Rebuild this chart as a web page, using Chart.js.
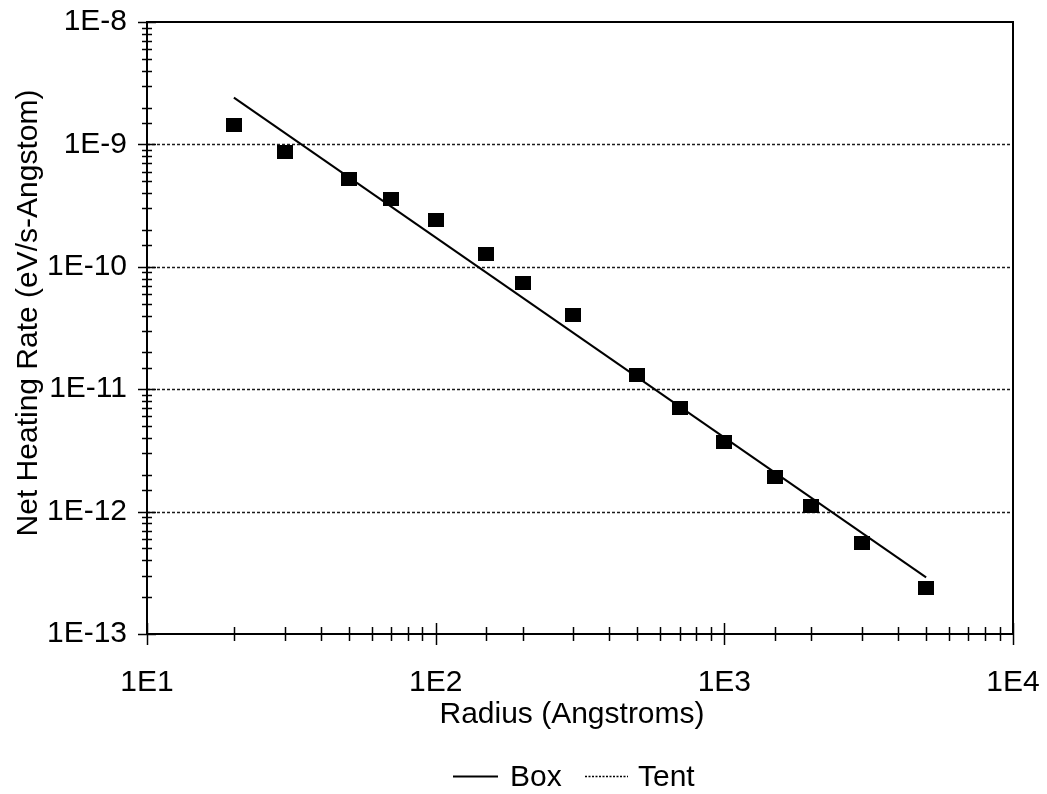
<!DOCTYPE html>
<html>
<head>
<meta charset="utf-8">
<script src="https://cdn.jsdelivr.net/npm/chart.js@4"></script>
<style>
  html, body { margin: 0; padding: 0; background: #ffffff; }
  canvas { display: block; }
</style>
</head>
<body>
<canvas id="chart" width="1047" height="794"></canvas>
<script>
// Net heating rate versus radius
const radii = [20, 30, 50, 70, 100, 150, 200, 300, 500, 700, 1000, 1500, 2000, 3000, 5000];
const heatingRates = [1.45e-9, 8.68e-10, 5.19e-10, 3.56e-10, 2.40e-10, 1.27e-10, 7.35e-11,
                      4.03e-11, 1.30e-11, 7.0e-12, 3.70e-12, 1.91e-12, 1.11e-12, 5.53e-13, 2.38e-13];

// "Box" model curve (straight line in log-log space)
const boxRadii = [20, 5000];
const boxRates = [2.41e-9, 2.90e-13];

// "Tent" model (listed in the legend only)
const tentRadii = [];
const tentRates = [];

const xTickLabels = ['1E1', '1E2', '1E3', '1E4'];      // 10^1 .. 10^4
const yTickLabels = ['1E-13', '1E-12', '1E-11', '1E-10', '1E-9', '1E-8']; // 10^-13 .. 10^-8

const xTitle = 'Radius (Angstroms)';
const yTitle = 'Net Heating Rate (eV/s-Angstom)';

const FONT = '"Liberation Sans", Arial, sans-serif';
const FONT_SIZE = 30;

const toPoints = (xs, ys) => xs.map((x, i) => ({ x, y: ys[i] }));
const isDecade = v => Math.abs(Math.log10(v) - Math.round(Math.log10(v))) < 1e-6;

// scales keep a fixed size and add no label overhang padding
const fixedSize = (w, h) => s => {
  if (w !== null) s.width = w;
  if (h !== null) s.height = h;
  s.paddingLeft = s.paddingRight = s.paddingTop = s.paddingBottom = 0;
};

// filled marker, slightly wider than tall
const marker = document.createElement('canvas');
marker.width = 16; marker.height = 14;
{
  const m = marker.getContext('2d');
  m.fillStyle = '#000';
  m.fillRect(0, 0, 16, 14);
}

// Frame, crossing tick marks, dotted decade gridlines, titles and legend
const decorations = {
  id: 'decorations',
  beforeDatasetsDraw(chart) {
    const { ctx, chartArea: a, scales: { y } } = chart;
    ctx.save();
    ctx.strokeStyle = '#1a1a1a';
    ctx.lineWidth = 1.5;
    ctx.setLineDash([3, 2]);
    y.ticks.forEach(t => {
      if (!isDecade(t.value)) return;
      const py = Math.round(y.getPixelForValue(t.value)) + 0.5;
      if (py <= a.top + 2 || py >= a.bottom - 2) return;
      ctx.beginPath();
      ctx.moveTo(a.left, py);
      ctx.lineTo(a.right, py);
      ctx.stroke();
    });
    ctx.restore();
  },
  afterDraw(chart) {
    const { ctx, chartArea: a, scales: { x, y } } = chart;
    ctx.save();
    ctx.strokeStyle = '#000';
    ctx.fillStyle = '#000';
    ctx.setLineDash([]);

    // plot frame
    ctx.lineWidth = 2;
    ctx.strokeRect(a.left, a.top, a.right - a.left, a.bottom - a.top);

    // x-axis ticks crossing the bottom axis
    ctx.lineWidth = 1.5;
    x.ticks.forEach(t => {
      const px = Math.round(x.getPixelForValue(t.value)) + 0.5;
      const h = isDecade(t.value) ? 11 : 7;
      ctx.beginPath();
      ctx.moveTo(px, a.bottom - h);
      ctx.lineTo(px, a.bottom + h);
      ctx.stroke();
    });

    // y-axis ticks crossing the left axis
    y.ticks.forEach(t => {
      const py = Math.round(y.getPixelForValue(t.value)) + 0.5;
      const w = isDecade(t.value) ? 9 : 5;
      ctx.beginPath();
      ctx.moveTo(a.left - w, py);
      ctx.lineTo(a.left + w, py);
      ctx.stroke();
    });

    ctx.font = `${FONT_SIZE}px ${FONT}`;

    // x-axis title
    ctx.textAlign = 'center';
    ctx.textBaseline = 'alphabetic';
    ctx.fillText(xTitle, 572, 723);

    // y-axis title, reading bottom to top
    ctx.save();
    ctx.translate(37, 313);
    ctx.rotate(-Math.PI / 2);
    ctx.fillText(yTitle, 0, 0);
    ctx.restore();

    // legend
    const ds = chart.data.datasets;
    const legendY = 776;
    const items = [
      { d: ds[0], x0: 453, x1: 498, tx: 510 },
      { d: ds[1], x0: 585, x1: 628, tx: 638 }
    ];
    ctx.textAlign = 'left';
    items.forEach(it => {
      ctx.save();
      ctx.strokeStyle = it.d.borderColor;
      ctx.lineWidth = it.d.legendLineWidth;
      ctx.setLineDash(it.d.borderDash || []);
      ctx.beginPath();
      ctx.moveTo(it.x0, legendY + 0.5);
      ctx.lineTo(it.x1, legendY + 0.5);
      ctx.stroke();
      ctx.restore();
      ctx.fillText(it.d.label, it.tx, 786);
    });

    ctx.restore();
  }
};

new Chart(document.getElementById('chart'), {
  type: 'scatter',
  data: {
    datasets: [
      {
        label: 'Box',
        type: 'line',
        data: toPoints(boxRadii, boxRates),
        borderColor: '#000',
        borderWidth: 2,
        legendLineWidth: 2,
        pointRadius: 0,
        fill: false,
        order: 2
      },
      {
        label: 'Tent',
        type: 'line',
        data: toPoints(tentRadii, tentRates),
        borderColor: '#000',
        borderWidth: 1,
        legendLineWidth: 1.5,
        borderDash: [2, 1.5],
        pointRadius: 0,
        fill: false,
        order: 3
      },
      {
        label: 'Net heating rate',
        data: toPoints(radii, heatingRates),
        showLine: false,
        pointStyle: marker,
        pointRadius: 8,
        order: 1
      }
    ]
  },
  options: {
    responsive: false,
    animation: false,
    devicePixelRatio: 1,
    layout: { padding: { left: 0, right: 34, top: 22, bottom: 0 } },
    plugins: {
      legend: { display: false },
      tooltip: { enabled: false }
    },
    scales: {
      x: {
        type: 'logarithmic',
        min: 10,
        max: 10000,
        grid: { display: false },
        border: { display: false },
        ticks: {
          autoSkip: false,
          maxRotation: 0,
          padding: 23,
          color: '#000',
          font: { family: FONT, size: FONT_SIZE },
          callback: v => isDecade(v) ? xTickLabels[Math.round(Math.log10(v)) - 1] : ''
        },
        afterFit: fixedSize(null, 160)
      },
      y: {
        type: 'logarithmic',
        min: 1e-13,
        max: 1e-8,
        grid: { display: false },
        border: { display: false },
        ticks: {
          autoSkip: false,
          padding: 12,
          color: '#000',
          font: { family: FONT, size: FONT_SIZE },
          callback: v => isDecade(v) ? yTickLabels[Math.round(Math.log10(v)) + 13] : ''
        },
        afterFit: fixedSize(147, null)
      }
    }
  },
  plugins: [decorations]
});
</script>
</body>
</html>
